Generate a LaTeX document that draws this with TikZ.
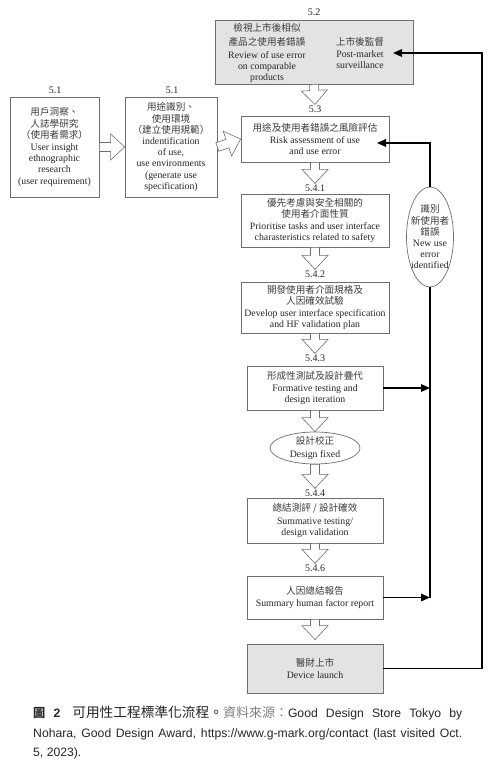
\documentclass[tikz,border=0pt]{standalone}
\usepackage{fontspec}
\setmainfont{Liberation Serif}
\setsansfont{Liberation Sans}
\newfontfamily\cjk{Noto Sans CJK TC}
\usetikzlibrary{shapes.geometric,calc,arrows.meta}
\definecolor{boxline}{HTML}{6E6E6E}
\definecolor{txt}{HTML}{262626}
\definecolor{zhtxt}{HTML}{3C3C3C}
\definecolor{panel}{HTML}{E3E3E3}
\newcommand{\zh}[1]{{\color{zhtxt}\cjk\fontsize{9.6}{11.2}\selectfont #1}}
% hollow block arrow from #1 to #2
\newcommand{\hollowarr}[2]{%
  \coordinate (ha0) at (#1);
  \coordinate (ha1) at (#2);
  \coordinate (hah) at ($(ha1)!14pt!(ha0)$);
  \filldraw[hollow] ($(ha0)!4.5pt!90:(ha1)$) -- ($(hah)!4.5pt!90:(ha1)$)
    -- ($(hah)!13pt!90:(ha1)$) -- (ha1) -- ($(hah)!13pt!-90:(ha1)$)
    -- ($(hah)!4.5pt!-90:(ha1)$) -- ($(ha0)!4.5pt!-90:(ha1)$) -- cycle;}
\begin{document}
\begin{tikzpicture}[x=1pt,y=-1pt,
    box/.style={draw=boxline,line width=0.7pt,fill=white,inner sep=1pt,align=center,
      text=txt,font=\fontsize{9.8}{11.2}\selectfont},
    panelbox/.style={box,fill=panel},
    plain/.style={inner sep=0pt,align=center,text=txt,font=\fontsize{9.8}{11.2}\selectfont},
    lbl/.style={text=txt,inner sep=1pt,font=\fontsize{10}{11}\selectfont},
    hollow/.style={draw=boxline,line width=0.6pt,fill=white},
    fb/.style={line width=1.6pt,-{Triangle[length=9pt,width=7.5pt]}},
    captext/.style={anchor=base west,inner sep=0pt,text=txt,font=\sffamily\fontsize{12.2}{20}\selectfont}]
  \useasboundingbox (0,0) rectangle (496,768);

  % step numbers
  \node[lbl] (l52) at (314,12) {5.2};
  \node[lbl] (l51a) at (55,90) {5.1};
  \node[lbl] (l51b) at (172,90) {5.1};
  \node[lbl] (l53) at (315,109) {5.3};
  \node[lbl] (l541) at (315,188) {5.4.1};
  \node[lbl] (l542) at (315,274) {5.4.2};
  \node[lbl] (l543) at (315,358) {5.4.3};
  \node[lbl] (l544) at (315,493) {5.4.4};
  \node[lbl] (l546) at (315,568) {5.4.6};

  % boxes
  \node[panelbox,minimum width=198pt,minimum height=64pt] (s52) at (314,52) {};
  \node[plain] (s52a) at (267,53) {\zh{檢視上市後相似}\\[3pt]\zh{產品之使用者錯誤}\\[1pt]
    Review of use error\\on comparable\\products};
  \node[plain] (s52b) at (360,53) {\zh{上市後監督}\\Post-market\\surveillance};
  \node[box,minimum width=89pt,minimum height=100pt] (s51a) at (54.5,147)
    {\zh{用戶洞察、}\\\zh{人誌學研究}\\\zh{（使用者需求）}\\[1pt]User insight\\ethnographic\\research\\(user requirement)};
  \node[box,minimum width=92pt,minimum height=100pt] (s51b) at (171,147)
    {\zh{用途識別、}\\\zh{使用環境}\\\zh{（建立使用規範）}\\indentification\\of use,\\use environments\\(generate use\\specification)};
  \node[box,minimum width=148pt,minimum height=46pt] (s53) at (315,139)
    {\zh{用途及使用者錯誤之風險評估}\\Risk assessment of use\\and use error};
  \node[box,minimum width=148pt,minimum height=53pt] (s541) at (315,220.5)
    {\zh{優先考慮與安全相關的}\\\zh{使用者介面性質}\\Prioritise tasks and user interface\\charasteristics related to safety};
  \node[box,minimum width=148pt,minimum height=51pt] (s542) at (315,307.5)
    {\zh{開發使用者介面規格及}\\\zh{人因確效試驗}\\Develop user interface specification\\and HF validation plan};
  \node[box,minimum width=136pt,minimum height=44pt] (s543) at (315,388)
    {\zh{形成性測試及設計疊代}\\[1pt]Formative testing and\\design iteration};
  \node[ellipse,draw=boxline,line width=0.7pt,minimum width=90pt,minimum height=32pt] (fixed) at (315,448) {};
  \node[plain] (fixedtxt) at (fixed.center) {\zh{設計校正}\\[1pt]Design fixed};
  \node[box,minimum width=136pt,minimum height=45pt] (s544) at (315,520.5)
    {\zh{總結測評 / 設計確效}\\[1pt]Summative testing/\\design validation};
  \node[box,minimum width=136pt,minimum height=43pt] (s546) at (315,597.5)
    {\zh{人因總結報告}\\[1pt]Summary human factor report};
  \node[panelbox,minimum width=136pt,minimum height=49pt] (launch) at (315,668.5)
    {\zh{醫財上市}\\[1pt]Device launch};
  \node[ellipse,draw=boxline,line width=0.7pt,minimum width=47pt,minimum height=100pt] (newerr) at (430,237) {};
  \node[plain] (newerrtxt) at (newerr.center) {\zh{識別}\\\zh{新使用者}\\\zh{錯誤}\\New use\\error\\identified};

  % main flow
  \hollowarr{s51a.east}{s51b.west}
  \hollowarr{s51b.east}{s53.west}
  \hollowarr{s52.south}{l53.north}
  \hollowarr{s53.south}{l541.north}
  \hollowarr{s541.south}{l542.north}
  \hollowarr{s542.south}{l543.north}
  \hollowarr{s543.south}{fixed.north}
  \hollowarr{fixed.south}{l544.north}
  \hollowarr{s544.south}{l546.north}
  \hollowarr{s546.south}{$(launch.north)+(0,-4)$}

  % feedback loops
  \coordinate (in53) at (377,143);
  \coordinate (in52) at (393,53);
  \coordinate (rt) at (482,53);
  \draw[fb] (s543.east) -- (s543.east -| newerr.south);
  \draw[fb] (s546.east) -- (s546.east -| newerr.south);
  \draw[line width=1.6pt] (newerr.south) -- (s546.east -| newerr.south);
  \draw[fb] (newerr.north) |- (in53);
  \draw[fb] (launch.east) -| (rt) -- (in52);

  % caption
  \node[captext] (cap1) at (33,717) {\makebox[429pt][s]{{\cjk\bfseries 圖}\ {\bfseries 2}\hspace{12pt}{\cjk\fontsize{13.7}{20}\selectfont 可用性工程標準化流程。}{\color{gray}\cjk\fontsize{13}{20}\selectfont 資料來源：}Good Design Store Tokyo by}};
  \node[captext] (cap2) at (33,737) {\makebox[429pt][s]{Nohara, Good Design Award, https://www.g-mark.org/contact (last visited Oct.}};
  \node[captext] (cap3) at (33,756) {5, 2023).};
\end{tikzpicture}
\end{document}
